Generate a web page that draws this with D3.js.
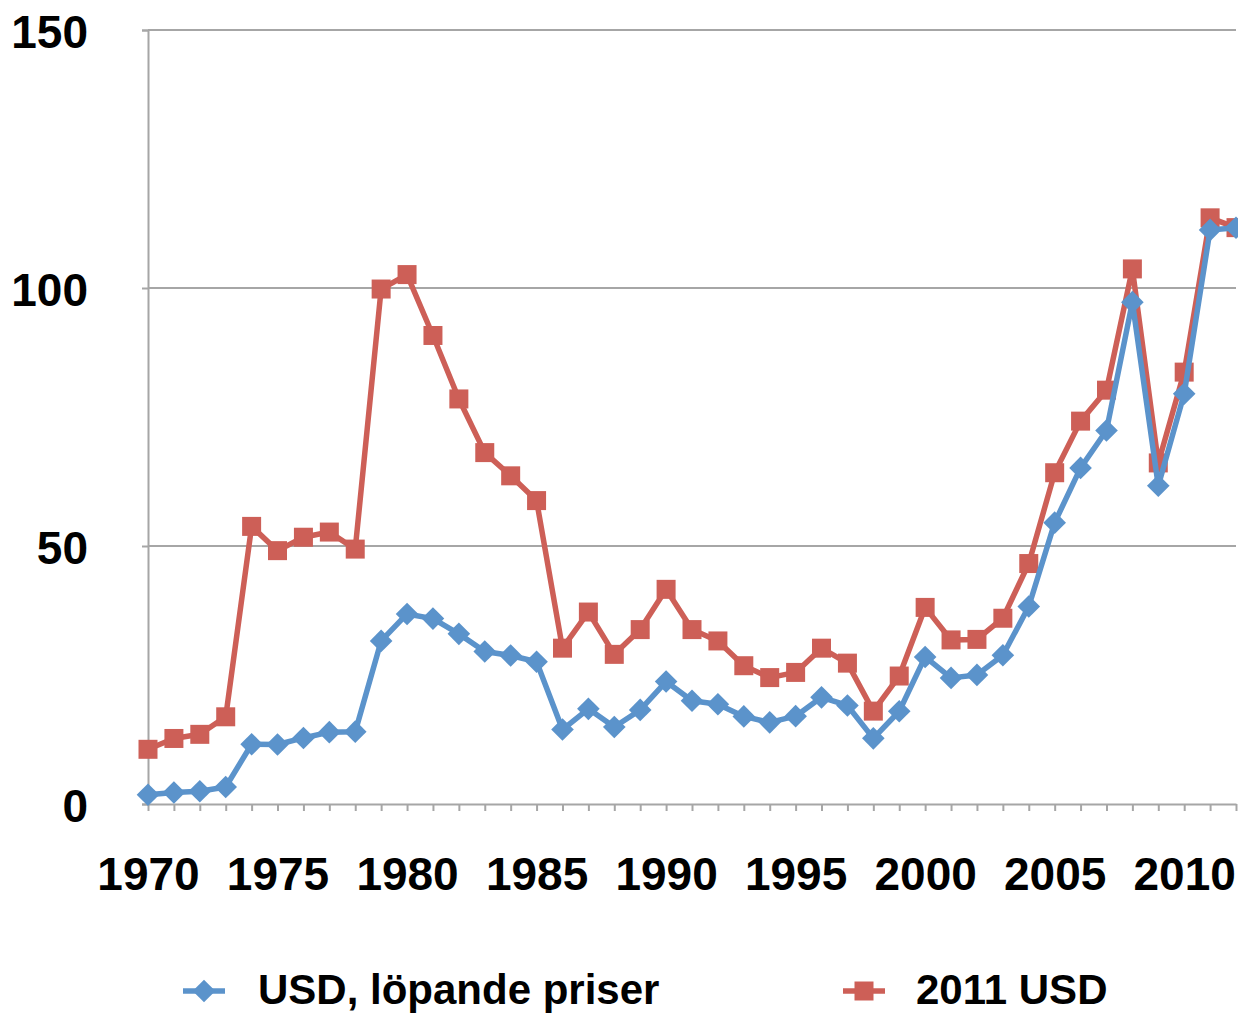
<!DOCTYPE html>
<html>
<head>
<meta charset="utf-8">
<script src="https://cdn.jsdelivr.net/npm/d3@7"></script>
<style>
  html, body { margin: 0; padding: 0; background: #fff; }
  svg { display: block; }
  text { font-family: "Liberation Sans", Arial, Helvetica, sans-serif; font-weight: bold; fill: #000; }
</style>
</head>
<body>
<script>
// ---- data ----
const years = d3.range(1970, 2013);
const usdCurrent = [1.80, 2.24, 2.48, 3.29, 11.58, 11.53, 12.80, 13.92, 14.02, 31.61,
  36.83, 35.93, 32.97, 29.55, 28.78, 27.56, 14.43, 18.44, 14.92, 18.23,
  23.73, 20.00, 19.32, 16.97, 15.82, 17.02, 20.67, 19.09, 12.72, 17.97,
  28.50, 24.44, 25.02, 28.83, 38.27, 54.52, 65.14, 72.39, 97.26, 61.67,
  79.50, 111.26, 111.67];
const usd2011 = [10.6, 12.7, 13.5, 16.9, 53.8, 49.1, 51.7, 52.7, 49.4, 99.8,
  102.6, 90.8, 78.5, 68.1, 63.6, 58.8, 30.2, 37.2, 29.0, 33.8,
  41.6, 33.8, 31.6, 26.8, 24.5, 25.5, 30.2, 27.3, 18.0, 24.8,
  38.1, 31.8, 31.9, 36.0, 46.6, 64.2, 74.2, 80.2, 103.7, 66.1,
  83.7, 113.6, 111.7];
const yTicks = [0, 50, 100, 150];
const xTickLabels = [1970, 1975, 1980, 1985, 1990, 1995, 2000, 2005, 2010];
const seriesNames = ["USD, löpande priser", "2011 USD"];
const colors = ["#5b93cb", "#cd5f57"];

// ---- layout ----
const W = 1238, H = 1014;
const svg = d3.select("body").append("svg").attr("width", W).attr("height", H);

const x = d3.scaleLinear().domain([1970, 2012]).range([148, 1236]);
const y = d3.scaleLinear().domain([0, 150]).range([804, 30]);
const grey = "#a6a6a6";

// gridlines
svg.append("g").selectAll("line").data(yTicks.filter(d => d > 0)).join("line")
  .attr("x1", x(1970)).attr("x2", x(2012))
  .attr("y1", d => y(d)).attr("y2", d => y(d))
  .attr("stroke", grey).attr("stroke-width", 2);

// y axis
const yAxis = d3.axisLeft(y).tickValues(yTicks).tickSize(6).tickPadding(54).tickFormat(d3.format("d"));
const gy = svg.append("g").attr("transform", `translate(${x(1970)},0)`).call(yAxis);
gy.select(".domain").attr("stroke", grey).attr("stroke-width", 2);
gy.selectAll(".tick line").attr("stroke", grey).attr("stroke-width", 2);
gy.selectAll(".tick text").attr("font-size", 46).attr("dy", "0.37em")
  .style("font-family", "'Liberation Sans', Arial, sans-serif").style("font-weight", "bold").attr("fill", "#000");

// x axis
const xAxis = d3.axisBottom(x).tickValues(years).tickSize(7).tickSizeOuter(0)
  .tickFormat(d => xTickLabels.includes(d) ? String(d) : "");
const gx = svg.append("g").attr("transform", `translate(0,${y(0)})`).call(xAxis);
gx.select(".domain").attr("stroke", grey).attr("stroke-width", 2);
gx.selectAll(".tick line").attr("stroke", grey).attr("stroke-width", 2);
gx.selectAll(".tick text").attr("font-size", 46).attr("y", 86).attr("dy", 0)
  .style("font-family", "'Liberation Sans', Arial, sans-serif").style("font-weight", "bold").attr("fill", "#000");

// lines
const line = d3.line().x((d, i) => x(years[i])).y(d => y(d));
const diamond = d3.symbol().type(d3.symbolSquare).size(16 * 16);
const square = d3.symbol().type(d3.symbolSquare).size(19 * 19);

// red series first (drawn below blue)
svg.append("path").datum(usd2011).attr("d", line)
  .attr("fill", "none").attr("stroke", colors[1]).attr("stroke-width", 5.5).attr("stroke-linejoin", "round");
svg.append("g").selectAll("path").data(usd2011).join("path")
  .attr("d", square)
  .attr("transform", (d, i) => `translate(${x(years[i])},${y(d)})`)
  .attr("fill", colors[1]);

svg.append("path").datum(usdCurrent).attr("d", line)
  .attr("fill", "none").attr("stroke", colors[0]).attr("stroke-width", 5.5).attr("stroke-linejoin", "round");
svg.append("g").selectAll("path").data(usdCurrent).join("path")
  .attr("d", diamond)
  .attr("transform", (d, i) => `translate(${x(years[i])},${y(d)}) rotate(45)`)
  .attr("fill", colors[0]);

// legend
const legend = [
  { name: seriesNames[0], color: colors[0], lx: 183, tx: 258, sym: "diamond" },
  { name: seriesNames[1], color: colors[1], lx: 843, tx: 916, sym: "square" }
];
const lg = svg.append("g");
legend.forEach(l => {
  lg.append("line").attr("x1", l.lx).attr("x2", l.lx + 42).attr("y1", 991).attr("y2", 991)
    .attr("stroke", l.color).attr("stroke-width", 5.5);
  lg.append("path")
    .attr("d", l.sym === "diamond" ? diamond : square)
    .attr("transform", `translate(${l.lx + 21},991)` + (l.sym === "diamond" ? " rotate(45)" : ""))
    .attr("fill", l.color);
  lg.append("text").attr("x", l.tx).attr("y", 1004).attr("font-size", 42).text(l.name);
});
</script>
</body>
</html>
